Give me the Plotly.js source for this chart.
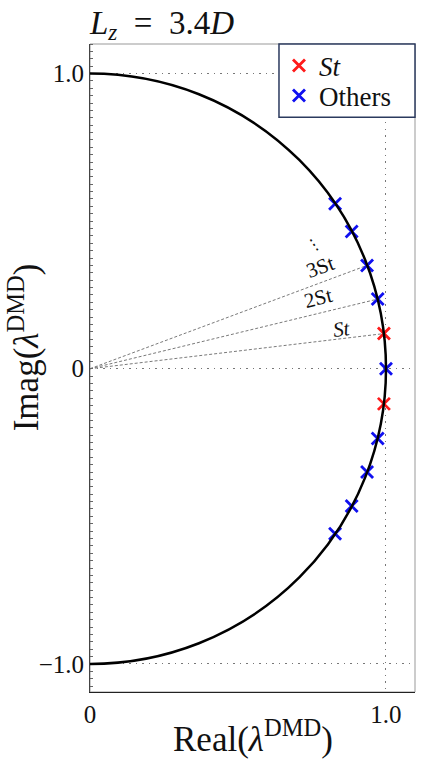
<!DOCTYPE html>
<html>
<head>
<meta charset="utf-8">
<script src="https://cdn.plot.ly/plotly-3.0.1.min.js"></script>
<style>html,body{margin:0;padding:0;background:#fff;}#chart{width:426px;height:763px;}</style>
</head>
<body>
<div id="chart"></div>
<script>
// Eigenvalues
const stReal = [0.993, 0.993];
const stImag = [0.119, -0.119];
const otherReal = [0.828, 0.884, 0.936, 0.972, 1.0, 0.972, 0.936, 0.884, 0.828];
const otherImag = [0.559, 0.465, 0.350, 0.236, 0.0, -0.236, -0.350, -0.465, -0.559];
// Harmonic rays: origin to St, 2St, 3St eigenvalues
const rayLabels = ["<i>St</i>", "2St", "3St"];
const rayReal = [0.993, 0.972, 0.936];
const rayImag = [0.119, 0.236, 0.350];
const rayLabelX = [0.851, 0.770, 0.777];
const rayLabelY = [0.134, 0.240, 0.346];
const rayLabelAngle = [-7, -14, -20];
const yTickVals = [-1, 0, 1];
const yTickText = ["\u22121.0", "0", "1.0"];
const xTickVals = [0, 1];
const xTickText = ["0", "1.0"];

const serif = "Liberation Serif";
const traces = [];
for (let i = 0; i < rayReal.length; i++) {
  traces.push({
    x: [0, rayReal[i]], y: [0, rayImag[i]], mode: "lines", showlegend: false,
    line: {color: "#7a7a7a", width: 1, dash: "3px,2px"}, hoverinfo: "skip"
  });
}
traces.push({
  x: stReal, y: stImag, mode: "markers", name: "<i>St</i>", legend: "legend",
  marker: {symbol: "x-thin", size: 12, color: "#ff1a1a", line: {color: "#ff1a1a", width: 2.8}}
});
traces.push({
  x: otherReal, y: otherImag, mode: "markers", name: "Others", legend: "legend2",
  marker: {symbol: "x-thin", size: 12, color: "#1010f0", line: {color: "#1010f0", width: 2.8}}
});

const annotations = rayLabels.map((t, i) => ({
  x: rayLabelX[i], y: rayLabelY[i], xref: "x", yref: "y", text: t, showarrow: false,
  textangle: rayLabelAngle[i], font: {family: serif, size: 21, color: "#111"}
}));
annotations.push({
  x: 0.757, y: 0.420, xref: "x", yref: "y", text: "\u22EE", showarrow: false,
  textangle: -34, font: {family: "DejaVu Sans", size: 16, color: "#111"}
});
// axis titles
annotations.push({
  x: -0.203, y: 0.532, xref: "paper", yref: "paper", xanchor: "center", yanchor: "middle",
  text: "Imag(<i>\u03BB</i><sup>DMD</sup>)", textangle: -90, showarrow: false,
  font: {family: serif, size: 35, color: "#111"}
});
annotations.push({
  x: 0.5, y: -0.068, xref: "paper", yref: "paper", xanchor: "center", yanchor: "middle",
  text: "Real(<i>\u03BB</i><sup>DMD</sup>)", showarrow: false,
  font: {family: serif, size: 35, color: "#111"}
});

const legendBase = {
  x: 0.5815, xanchor: "left", yanchor: "middle",
  borderwidth: 0, bgcolor: "rgba(0,0,0,0)",
  font: {family: serif, size: 27, color: "#111"},
  itemwidth: 30, tracegroupgap: 0
};

const layout = {
  width: 426, height: 763,
  font: {family: serif, size: 25, color: "#111"},
  margin: {l: 90, r: 11, t: 44, b: 71},
  paper_bgcolor: "#fff", plot_bgcolor: "#fff",
  title: {
    text: "<i>L</i><sub><i>z</i></sub>\u2002=\u20023.4<i>D</i>",
    x: 0, xanchor: "left", xref: "paper",
    y: 1 - 22 / 763, yanchor: "middle", yref: "container",
    font: {family: serif, size: 33, color: "#111"}
  },
  xaxis: {
    range: [0, 1.098], tickvals: xTickVals, ticktext: xTickText,
    showgrid: true, gridcolor: "#777", gridwidth: 1, griddash: "1.5px,5px",
    zeroline: false, showline: true, linecolor: "#222", linewidth: 1.2,
    ticks: "", tickfont: {family: serif, size: 25, color: "#111"}
  },
  yaxis: {
    range: [-1.095, 1.10], tickvals: yTickVals, ticktext: yTickText,
    showgrid: true, gridcolor: "#777", gridwidth: 1, griddash: "1.5px,5px",
    zeroline: false, showline: true, linecolor: "#444", linewidth: 1,
    ticks: "", tickfont: {family: serif, size: 25, color: "#111"},
    minor: {ticks: "inside", dtick: 0.025, ticklen: 3, tickcolor: "#666", tickwidth: 1, showgrid: false}
  },
  shapes: [
    {type: "rect", xref: "paper", yref: "paper", x0: 0, x1: 1, y0: 0, y1: 1,
     line: {color: "#999", width: 1}, layer: "below"},
    {type: "circle", xref: "x", yref: "y", x0: -1, x1: 1, y0: -1, y1: 1,
     line: {color: "#000", width: 2.5}, layer: "above"},
    {type: "rect", xref: "paper", yref: "paper", x0: 0.5815, x1: 1.0, y0: 0.887, y1: 1.0,
     line: {color: "#2b3a5e", width: 1.5}, fillcolor: "#fff", layer: "above"}
  ],
  legend: Object.assign({}, legendBase, {y: 0.966}),
  legend2: Object.assign({}, legendBase, {y: 0.920}),
  annotations: annotations
};
Plotly.newPlot("chart", traces, layout, {displayModeBar: false, staticPlot: true});
</script>
</body>
</html>
